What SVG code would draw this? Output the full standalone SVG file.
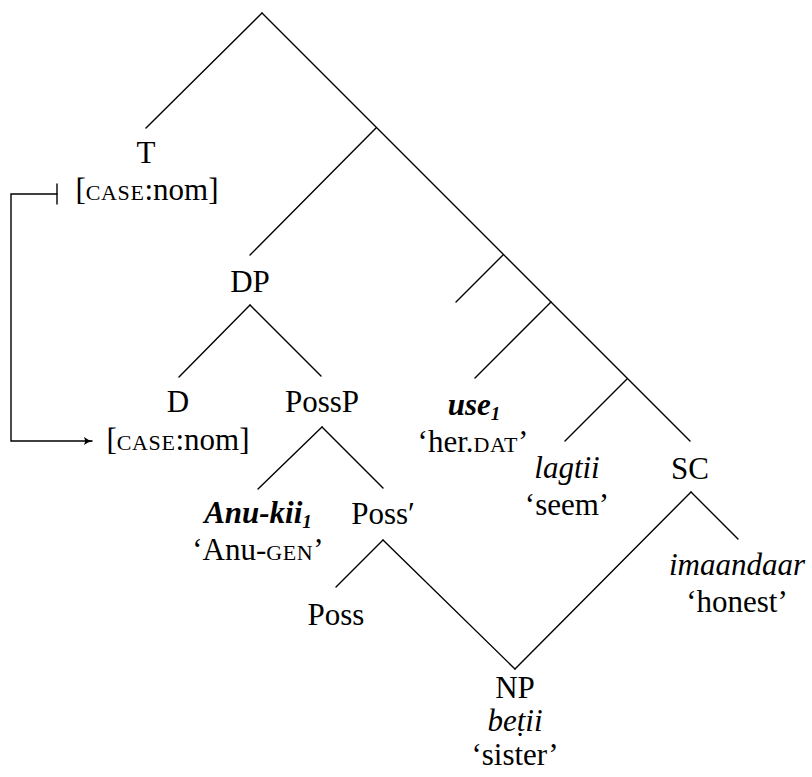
<svg xmlns="http://www.w3.org/2000/svg" width="812" height="777" viewBox="0 0 812 777">
  <defs>
    <marker id="arrowhead" viewBox="0 0 10 10" refX="9" refY="5" markerWidth="9" markerHeight="9" markerUnits="userSpaceOnUse" orient="auto">
      <path d="M0,0.5 Q4,4 10,5 Q4,6 0,9.5 Q2.5,5 0,0.5 Z" fill="#000"/>
    </marker>
  </defs>
  <style>
    text { font-family: "Liberation Serif", "DejaVu Serif", serif; font-size: 31px; fill: #000; text-anchor: middle; }
    .it { font-style: italic; }
    .bi { font-style: italic; font-weight: bold; }
    .sc { font-size: 22px; letter-spacing: 0.6px; }
    .sub { font-size: 19px; }
    .edge { stroke: #000; stroke-width: 1.4; fill: none; stroke-linecap: round; }
  </style>
  <rect width="812" height="777" fill="#fff"/>

  <!-- tree branches -->
  <g id="connectors">
    <line class="edge" x1="262" y1="13" x2="146" y2="128"/>
    <line class="edge" x1="262" y1="13" x2="690" y2="441"/>
    <line class="edge" x1="376" y1="128" x2="250" y2="255"/>
    <line class="edge" x1="503" y1="255" x2="456" y2="302"/>
    <line class="edge" x1="551" y1="302" x2="475" y2="378"/>
    <line class="edge" x1="627" y1="379" x2="565" y2="441"/>
    <line class="edge" x1="250" y1="305" x2="179" y2="377"/>
    <line class="edge" x1="250" y1="305" x2="321" y2="376"/>
    <line class="edge" x1="322" y1="427" x2="258" y2="489"/>
    <line class="edge" x1="322" y1="427" x2="383" y2="488"/>
    <line class="edge" x1="383" y1="540" x2="336" y2="587"/>
    <line class="edge" x1="383" y1="540" x2="515" y2="669"/>
    <line class="edge" x1="691" y1="492" x2="515" y2="669"/>
    <line class="edge" x1="691" y1="492" x2="738" y2="539"/>
    <!-- case valuation link -->
    <polyline class="edge" points="57,194 11,194 11,441 92,441" stroke-linecap="butt" marker-end="url(#arrowhead)"/>
    <line class="edge" x1="57" y1="184" x2="57" y2="204" stroke-linecap="butt"/>
  </g>

  <g id="node-T">
    <text x="146" y="163">T</text>
    <text x="147" y="200">[<tspan class="sc">CASE</tspan>:nom]</text>
  </g>
  <g id="node-DP">
    <text x="250" y="292">DP</text>
  </g>
  <g id="node-D">
    <text x="178" y="412">D</text>
    <text x="178" y="450">[<tspan class="sc">CASE</tspan>:nom]</text>
  </g>
  <g id="node-PossP">
    <text x="322" y="412">PossP</text>
  </g>
  <g id="node-AnuKii">
    <text x="258" y="523" class="bi">Anu-kii<tspan class="sub" dy="5">1</tspan></text>
    <text x="258" y="560">‘Anu-<tspan class="sc">GEN</tspan>’</text>
  </g>
  <g id="node-PossBar">
    <text x="383" y="524">Poss′</text>
  </g>
  <g id="node-Poss">
    <text x="336" y="625">Poss</text>
  </g>
  <g id="node-NP">
    <text x="515" y="698">NP</text>
    <text x="515" y="731" class="it">beṭii</text>
    <text x="515" y="765">‘sister’</text>
  </g>
  <g id="node-use">
    <text x="474" y="415" class="bi">use<tspan class="sub" dy="5">1</tspan></text>
    <text x="473" y="452">‘her.<tspan class="sc">DAT</tspan>’</text>
  </g>
  <g id="node-lagtii">
    <text x="567" y="478" class="it">lagtii</text>
    <text x="567" y="515">‘seem’</text>
  </g>
  <g id="node-SC">
    <text x="690" y="479">SC</text>
  </g>
  <g id="node-imaandaar">
    <text x="737" y="575" class="it">imaandaar</text>
    <text x="737" y="612">‘honest’</text>
  </g>
</svg>
